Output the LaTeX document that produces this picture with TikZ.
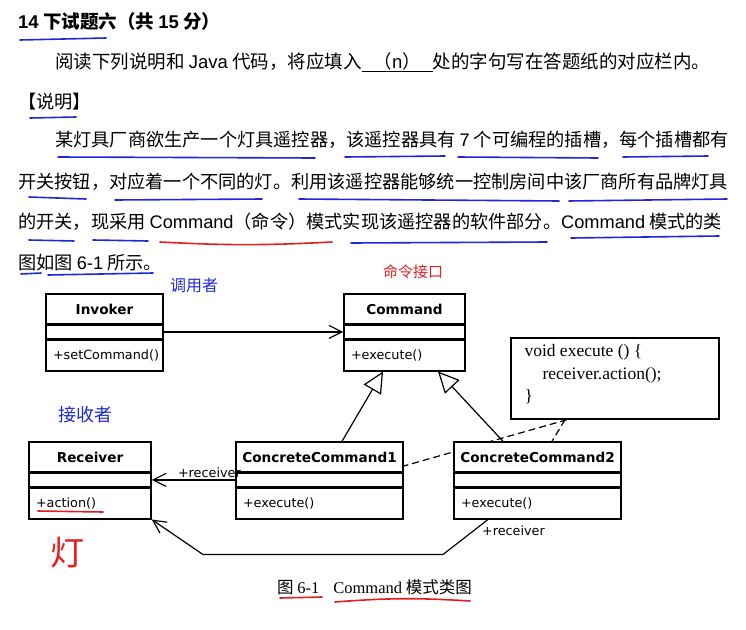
\documentclass[tikz,border=0pt]{standalone}
\usepackage{fontspec}
\setmainfont{Liberation Sans}
\newfontfamily\zh{Noto Sans CJK SC}
\newfontfamily\uml{DejaVu Sans}
\newfontfamily\tms{Liberation Serif}
\newcommand{\ltn}[1]{{\rmfamily #1}}
\usetikzlibrary{arrows.meta,positioning,backgrounds}
\definecolor{bluepen}{RGB}{30,40,215}
\definecolor{redpen}{RGB}{225,30,35}

\begin{document}
\begin{tikzpicture}[
  x=1pt, y=-1pt,
  txt/.style={anchor=west, inner sep=0pt, font=\fontsize{18.2}{22}\zh},
  cls/.style={draw, line width=1.4pt, fill=white, minimum width=#1, inner sep=0pt},
  hd/.style={cls=#1, minimum height=30, font=\fontsize{13.6}{16}\uml\bfseries},
  gap/.style={cls=#1, minimum height=13},
  ops/.style={cls=#1, minimum height=31, inner xsep=7pt, text width=#1-14, align=left, font=\fontsize{12.8}{15}\uml},
  lbl/.style={font=\fontsize{12.8}{15}\uml, inner sep=1.5pt},
  assoc/.style={line width=1.2pt, -{Straight Barb[length=13pt, width=13pt, line width=1.2pt]}},
  gen/.style={line width=1.2pt, -{Triangle[open, length=21pt, width=20pt, line width=1.2pt, fill=white]}},
  dep/.style={line width=1.2pt, dash pattern=on 7pt off 4pt},
  ul/.style={bluepen, line width=1.6pt, line cap=round},
  ulr/.style={ul, redpen},
  hand/.style={font=\fontsize{#1}{#1}\zh, inner sep=0pt}]
\useasboundingbox (0,0) rectangle (746,629);
% text of the question
\node[txt, font=\fontsize{18.5}{22}\zh\bfseries] (title) at (18,21) {\ltn{14} 下试题六（共 \ltn{15} 分）};
\node[txt, font=\fontsize{18.5}{22}\zh] (task) at (55,62) {阅读下列说明和 \ltn{Java} 代码，将应填入\underline{\hspace*{12pt}（\ltn{n}）\hspace*{12pt}}处的字句写在答题纸的对应栏内。};
\node[txt] (head) at (18,102) {【说明】};
\node[txt] (p1) at (55,140) {某灯具厂商欲生产一个灯具遥控器，该遥控器具有 \ltn{7} 个可编程的插槽，每个插槽都有};
\node[txt] (p2) at (18,182) {开关按钮，对应着一个不同的灯。利用该遥控器能够统一控制房间中该厂商所有品牌灯具};
\node[txt] (p3) at (18,222) {的开关，现采用 \ltn{Command}（命令）模式实现该遥控器的软件部分。\ltn{Command} 模式的类};
\node[txt] (p4) at (18,263) {图如图 \ltn{6-1} 所示。};
% classes
\node[hd=117] (inv) at (104.5,309) {Invoker};
\node[gap=117, below=0pt of inv] (inv-a) {};
\node[ops=117, below=0pt of inv-a] (inv-o) {+setCommand()};
\node[hd=121] (cmd) at (404.5,309) {Command};
\node[gap=121, below=0pt of cmd] (cmd-a) {};
\node[ops=121, below=0pt of cmd-a] (cmd-o) {+execute()};
\node[hd=122] (rec) at (90,457) {Receiver};
\node[gap=122, below=0pt of rec] (rec-a) {};
\node[ops=122, below=0pt of rec-a] (rec-o) {+action()};
\node[hd=167] (cc1) at (319.5,457) {ConcreteCommand1};
\node[gap=167, below=0pt of cc1] (cc1-a) {};
\node[ops=167, below=0pt of cc1-a] (cc1-o) {+execute()};
\node[hd=167] (cc2) at (537.5,457) {ConcreteCommand2};
\node[gap=167, below=0pt of cc2] (cc2-a) {};
\node[ops=167, below=0pt of cc2-a] (cc2-o) {+execute()};
% note
\node[draw, line width=1.4pt, fill=white, minimum width=208, minimum height=81] (note) at (615,378.5) {};
\node[anchor=north west, align=left, inner sep=0pt, font=\fontsize{17.5}{22.5}\tms] (code) at ([shift={(14,7)}]note.north west) {void execute () \{\\\hspace*{18pt}receiver.action();\\\}};
\begin{scope}[on background layer]
  \draw[dep] ([xshift=-48]note.south) -- ([yshift=-9]cc1.east);
  \draw[dep] ([xshift=-50]note.south) -- ([xshift=14.5]cc2.north);
\end{scope}
% connectors
\draw[assoc] (inv-a.east) -- (cmd-a.west);
\draw[gen] ([xshift=22.5]cc1.north) -- ([xshift=-21.5]cmd-o.south);
\draw[gen] ([xshift=-34.5]cc2.north) -- ([xshift=33.5]cmd-o.south);
\draw[assoc] (cc1-a.west) -- node[lbl, above, pos=0.31] {+receiver} (rec-a.east);
\draw[assoc] ([xshift=-49.5]cc2-o.south) node[lbl, anchor=north west, xshift=-8, yshift=-4] {+receiver} -- ++(-45,35) -- ++(-240,0) -- (rec-o.south east);
% caption
\node[anchor=west, inner sep=0pt, font=\fontsize{16.5}{18}\zh] (cap) at (277,587) {图 {\tms 6-1}\hspace{14pt}{\tms Command} 模式类图};
% pen marks
\node[hand=16, bluepen] (h1) at (194,285) {调用者};
\node[hand=15, redpen] (h2) at (413,272) {命令接口};
\node[hand=18, bluepen] (h3) at (85,415) {接收者};
\node[hand=34, redpen] (h4) at (67,553) {灯};
\draw[ul] (20,40) -- (106,38) (30,118) -- (76,117)
  (58,157) -- (315,158) (345,157) -- (445,156) (458,157) -- (598,158) (623,157) -- (708,156)
  (29,197) -- (86,199) (115,200) -- (262,199) (299,199) -- (559,201) (569,201) -- (727,199)
  (29,240) -- (74,241) (93,240) -- (148,241) (351,243) -- (547,242) (571,238) -- (719,236)
  (21,274) -- (41,273) (48,275) -- (153,273);
\draw[ulr] (160,242) to[bend right=3] (332,242);
\draw[ulr] (38,511) -- (103,512);
\draw[ulr] (280,598) -- (322,597);
\draw[ulr] (335,602) to[bend left=4] (470,601);
\end{tikzpicture}
\end{document}
